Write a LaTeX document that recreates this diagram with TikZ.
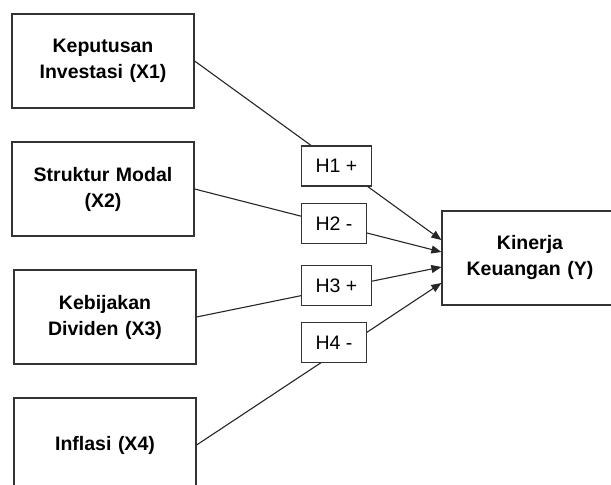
\documentclass[tikz,border=0pt]{standalone}
\usepackage{fontspec}
\setmainfont{Liberation Sans}
\usepackage{tikz}
\usetikzlibrary{shapes.geometric, arrows, arrows.meta, positioning}
\tikzstyle{var} = [rectangle,
minimum width=182pt,
minimum height=94pt,
text centered,
text width=170pt,
draw=black!80, line width=1.2pt,
font=\fontsize{19.5}{26}\selectfont\bfseries]
\tikzstyle{hyp} = [rectangle,
minimum height=40pt,
inner xsep=14pt,
anchor=west,
draw=black!80, line width=1.2pt, fill=white,
font=\fontsize{19.5}{24}\selectfont]
\tikzstyle{arrow} = [line width=1.1pt, draw=black!85, -{Triangle[length=10pt,width=8pt]}]

\begin{document}
\begin{tikzpicture}[x=1pt, y=1pt, node distance=128pt]
            \path[use as bounding box, clip] (0,0) rectangle (611,485);

            \node (x1) [var] at (103,424) {Keputusan\\Investasi (X1)};
            \node (x2) [var, below of=x1] {Struktur Modal\\(X2)};
            \node (x3) [var, below of=x2, xshift=2pt] {Kebijakan\\Dividen (X3)};
            \node (x4) [var, below of=x3] {Inflasi (X4)};
            \node (y) [var, minimum width=176pt, text width=164pt] at (530,227) {Kinerja\\Keuangan (Y)};

            \draw [arrow] (x1.east) -- ([yshift=18pt]y.west);
            \draw [arrow] (x2.east) -- ([yshift=6pt]y.west);
            \draw [arrow] (x3.east) -- ([yshift=-9pt]y.west);
            \draw [arrow] (x4.east) -- ([yshift=-25pt]y.west);

            \node (h1) [hyp] at (301,319) {H1 +};
            \node (h2) [hyp] at (301,261.5) {H2 -};
            \node (h3) [hyp] at (301,199.5) {H3 +};
            \node (h4) [hyp] at (301,142.5) {H4 -};
        \end{tikzpicture}
\end{document}
